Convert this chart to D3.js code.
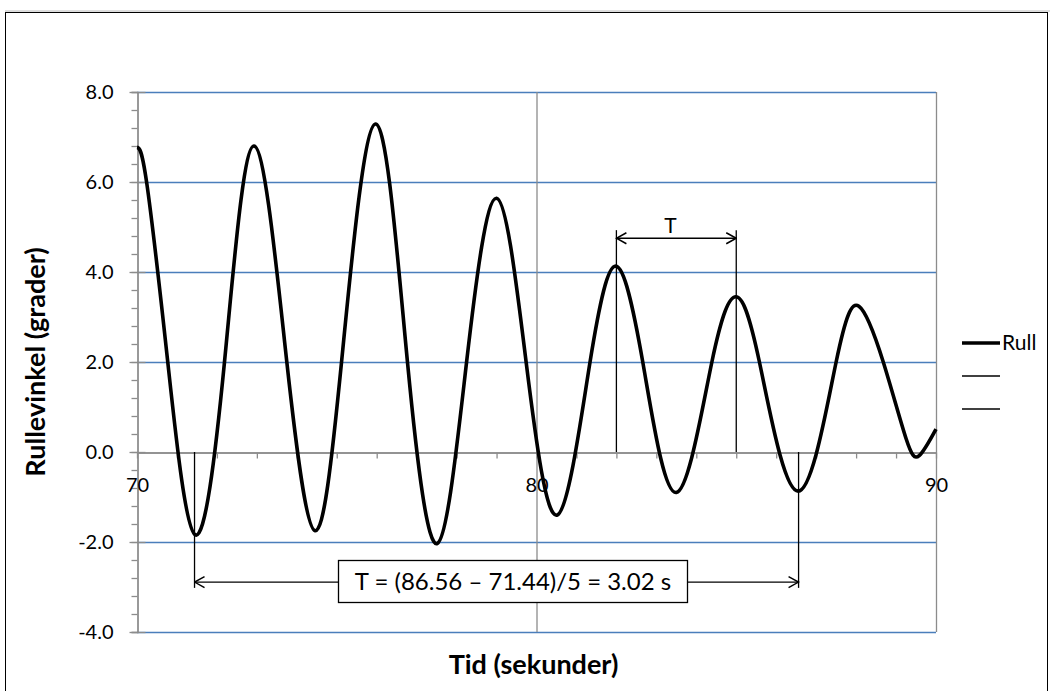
<!DOCTYPE html>
<html><head><meta charset="utf-8">
<script src="https://cdn.jsdelivr.net/npm/d3@7"></script>
<style>body{margin:0;background:#fff}svg{display:block}text{font-family:Lato,"Open Sans",sans-serif}</style>
</head><body>
<script>
// ---- data (peaks, troughs and level crossings) ----
const time = [70.00,70.24,70.77,71.46,72.19,72.93,73.75,74.46,75.12,75.97,76.77,77.52,78.25,79.00,79.74,80.52,81.34,81.99,82.66,83.50,84.39,84.99,85.58,86.55,87.50,88.07,88.68,89.25,89.58,90.00];
const roll = [6.77,6.0,2.0,-1.84,2.0,6.80,2.0,-1.75,2.0,7.29,2.0,-2.03,2.0,5.64,2.0,-1.40,2.0,4.13,2.0,-0.90,2.0,3.45,2.0,-0.87,2.0,3.24,2.0,0.30,-0.08,0.51];
const xTicks = [70,80,90];
const yTicks = [-4,-2,0,2,4,6,8];
const seriesNames = ["Rull","",""];
const periodSpan = [71.44, 86.56];   // 5-period measurement
const singlePeriod = [82.0, 85.0];  // one period T
const periodText = "T = (86.56 \u2013 71.44)/5 = 3.02 s";

const W=1050,H=691;
const svg=d3.select("body").append("svg").attr("width",W).attr("height",H);
svg.append("rect").attr("x",5.5).attr("y",12.5).attr("width",1042).attr("height",720)
  .attr("fill","#fff").attr("stroke","#000").attr("stroke-width",1);
svg.append("line").attr("x1",5).attr("x2",1050).attr("y1",11).attr("y2",11).attr("stroke","#bbb");

const x=d3.scaleLinear().domain([70,90]).range([137,936]);
const y=d3.scaleLinear().domain([-4,8]).range([632,92]);
const blue="#4a7ebb", gray="#8c8c8c";

// horizontal gridlines
svg.append("g").selectAll("line").data(yTicks.filter(d=>d!==0)).join("line")
  .attr("x1",x(70)).attr("x2",x(90)).attr("y1",d=>y(d)+0.5).attr("y2",d=>y(d)+0.5)
  .attr("stroke",blue).attr("stroke-width",1.3);
// vertical gridlines
svg.append("g").selectAll("line").data(xTicks.slice(1)).join("line")
  .attr("x1",d=>x(d)+0.5).attr("x2",d=>x(d)+0.5).attr("y1",y(8)).attr("y2",y(-4))
  .attr("stroke",gray).attr("stroke-width",1.3);

// y axis: minor ticks (outside), major ticks (cross) + labels
const fmt=d=>d.toFixed(1);
const yMinor=d3.range(0,31).map(i=>-4+i*0.4);
const gyMinor=svg.append("g").attr("transform",`translate(${x(70)+0.5},0)`)
  .call(d3.axisLeft(y).tickValues(yMinor).tickSize(6).tickFormat(""));
const gy=svg.append("g").attr("transform",`translate(${x(70)+0.5},0)`)
  .call(d3.axisLeft(y).tickValues(yTicks).tickSizeInner(8).tickSizeOuter(0).tickPadding(16).tickFormat(fmt));
[gyMinor,gy].forEach(g=>{g.selectAll("line,path").attr("stroke",gray).attr("stroke-width",1.3);});
gy.selectAll(".tick").append("line").attr("x1",0).attr("x2",8).attr("stroke",gray).attr("stroke-width",1.3);
gy.selectAll("text").attr("font-size",20).attr("fill","#000");

// x axis at y=0
const xMinor=d3.range(70,91,1);
const gxMinor=svg.append("g").attr("transform",`translate(0,${y(0)+0.5})`)
  .call(d3.axisBottom(x).tickValues(xMinor).tickSize(6).tickSizeOuter(0).tickFormat(""));
const gx=svg.append("g").attr("transform",`translate(0,${y(0)+0.5})`)
  .call(d3.axisBottom(x).tickValues(xTicks).tickSize(0).tickPadding(25).tickFormat(d3.format("d")));
[gxMinor,gx].forEach(g=>{g.selectAll("line,path").attr("stroke",gray).attr("stroke-width",1.3);});
gx.selectAll("text").attr("font-size",20).attr("fill","#000");

// arrow marker
const defs=svg.append("defs");
defs.append("marker").attr("id","arr").attr("markerUnits","userSpaceOnUse")
  .attr("viewBox","-1 -7 12 14").attr("refX",10).attr("refY",0)
  .attr("markerWidth",12).attr("markerHeight",14).attr("orient","auto-start-reverse")
  .append("path").attr("d","M0,-5.5L10,0L0,5.5").attr("fill","none").attr("stroke","#000").attr("stroke-width",1.5);

const ann=svg.append("g").attr("stroke","#000").attr("stroke-width",1.3);
// single period guides
singlePeriod.forEach(t=>ann.append("line").attr("x1",x(t)).attr("x2",x(t)).attr("y1",y(0)).attr("y2",y(4.93)));
ann.append("line").attr("x1",x(singlePeriod[0])).attr("x2",x(singlePeriod[1])).attr("y1",y(4.75)).attr("y2",y(4.75))
  .attr("marker-start","url(#arr)").attr("marker-end","url(#arr)");
svg.append("text").attr("x",x(83.35)).attr("y",y(5.04)).attr("dy","0.35em").attr("text-anchor","middle")
  .attr("font-size",21).text("T");
// five period guides
periodSpan.forEach(t=>ann.append("line").attr("x1",x(t)).attr("x2",x(t)).attr("y1",y(0)).attr("y2",y(-3.02)));
ann.append("line").attr("x1",x(periodSpan[0])).attr("x2",x(periodSpan[1])).attr("y1",y(-2.89)).attr("y2",y(-2.89))
  .attr("marker-start","url(#arr)").attr("marker-end","url(#arr)");

// series line
const line=d3.line().x((d,i)=>x(time[i])).y(d=>y(d)).curve(d3.curveNatural);
svg.append("path").attr("d",line(roll)).attr("fill","none").attr("stroke","#000").attr("stroke-width",3.6)
  .attr("stroke-linejoin","round");

// text box
const box=svg.append("g");
box.append("rect").attr("x",338.5).attr("y",560.5).attr("width",349).attr("height",42)
  .attr("fill","#fff").attr("stroke","#000").attr("stroke-width",1.3);
box.append("text").attr("x",513).attr("y",582).attr("dy","0.35em").attr("text-anchor","middle")
  .attr("font-size",24).text(periodText);

// legend
const leg=svg.append("g");
seriesNames.forEach((n,i)=>{
  const ly=343+i*33;
  leg.append("line").attr("x1",962).attr("x2",1000).attr("y1",ly).attr("y2",ly)
    .attr("stroke","#000").attr("stroke-width",i===0?3.4:1.3);
  if(n) leg.append("text").attr("x",1002).attr("y",ly).attr("dy","0.35em").attr("font-size",21).text(n);
});

// axis titles
svg.append("text").attr("transform",`translate(36,${(y(8)+y(-4))/2}) rotate(-90)`).attr("text-anchor","middle")
  .attr("dy","0.35em").attr("font-size",27).attr("font-weight","bold").text("Rullevinkel (grader)");
svg.append("text").attr("x",x(80)-3).attr("y",665).attr("dy","0.35em").attr("text-anchor","middle")
  .attr("font-size",27).attr("font-weight","bold").text("Tid (sekunder)");
</script>
</body></html>
